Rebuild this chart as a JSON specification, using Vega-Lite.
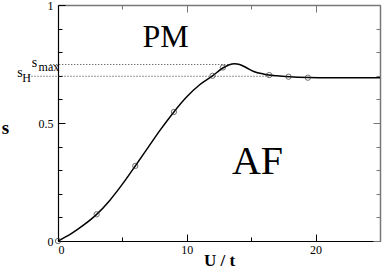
{
  "$schema": "https://vega.github.io/schema/vega-lite/v6.json",
  "width": 322,
  "height": 236,
  "autosize": "none",
  "padding": {"left": 58, "top": 5, "right": 2, "bottom": 28},
  "background": "white",
  "config": {"view": {"stroke": null}, "font": "Liberation Serif"},
  "datasets": {
    "curve": [
      {"u": 0, "s": 0}, {"u": 1, "s": 0.03}, {"u": 2, "s": 0.068}, {"u": 3, "s": 0.113},
      {"u": 4, "s": 0.171}, {"u": 5, "s": 0.241}, {"u": 6, "s": 0.318}, {"u": 7, "s": 0.397},
      {"u": 8, "s": 0.475}, {"u": 9, "s": 0.547}, {"u": 10, "s": 0.611}, {"u": 11, "s": 0.662},
      {"u": 12, "s": 0.7}, {"u": 12.8, "s": 0.733}, {"u": 13.3, "s": 0.747}, {"u": 13.7, "s": 0.751},
      {"u": 14.1, "s": 0.748}, {"u": 14.6, "s": 0.735}, {"u": 15.2, "s": 0.718}, {"u": 16, "s": 0.707},
      {"u": 17, "s": 0.7}, {"u": 18, "s": 0.696}, {"u": 19.5, "s": 0.693}, {"u": 21, "s": 0.692},
      {"u": 25, "s": 0.692}
    ],
    "pts": [
      {"u": 0, "s": 0}, {"u": 3, "s": 0.113}, {"u": 6, "s": 0.318}, {"u": 9, "s": 0.547},
      {"u": 12, "s": 0.7}, {"u": 12.8, "s": 0.735}, {"u": 16.4, "s": 0.703}, {"u": 17.9, "s": 0.696},
      {"u": 19.4, "s": 0.692}
    ],
    "refs": [
      {"u1": -0.6, "u2": 13.4, "s": 0.748},
      {"u1": -2.29, "u2": 16.4, "s": 0.698}
    ],
    "mainText": [
      {"u": -1.82, "s": 0.737, "t": "s"},
      {"u": -2.95, "s": 0.695, "t": "s"}
    ],
    "subText": [
      {"u": -1.51, "s": 0.72, "t": "max"},
      {"u": -2.78, "s": 0.674, "t": "H"}
    ],
    "regions": [
      {"u": 8.35, "s": 0.864, "t": "PM", "fs": 18},
      {"u": 15.49, "s": 0.335, "t": "AF", "fs": 24}
    ]
  },
  "resolve": {"axis": {"x": "independent", "y": "independent"}},
  "layer": [
    {
      "data": {"name": "refs"},
      "mark": {"type": "rule", "strokeDash": [1, 2], "color": "#333", "strokeWidth": 1},
      "encoding": {
        "x": {"field": "u1", "type": "quantitative", "scale": {"domain": [0, 25], "nice": false, "zero": false},
          "axis": {"orient": "bottom", "values": [0, 5, 10, 15, 20, 25], "title": "U / t",
            "titleFont": "Liberation Serif", "titleFontSize": 17, "titleFontWeight": "bold", "titleColor": "black",
            "titleY": 24, "titleBaseline": "alphabetic",
            "domainColor": "black", "domainWidth": 1.2, "tickColor": "black",
            "tickSize": {"condition": {"test": "datum.value % 10 === 0", "value": -7}, "value": -4},
            "labelExpr": "datum.value % 10 === 0 ? datum.label : ''",
            "labelFont": "Liberation Serif", "labelFontSize": 12, "labelColor": "black", "labelPadding": 10,
            "grid": false}},
        "x2": {"field": "u2"},
        "y": {"field": "s", "type": "quantitative", "scale": {"domain": [0, 1], "nice": false},
          "axis": {"orient": "left", "values": [0, 0.1, 0.2, 0.3, 0.4, 0.5, 0.6, 0.7, 0.8, 0.9, 1], "format": "~g",
            "title": "s", "titleAngle": 0, "titleFont": "Liberation Serif", "titleFontSize": 19, "titleFontWeight": "bold",
            "titleColor": "black", "titleX": -53, "titleY": 122, "titleAlign": "center", "titleBaseline": "middle",
            "domainColor": "black", "domainWidth": 1.2, "tickColor": "black",
            "tickSize": {"condition": {"test": "datum.value === 0 || datum.value === 0.5 || datum.value === 1", "value": -7}, "value": -4},
            "labelExpr": "(datum.value === 0 || datum.value === 0.5 || datum.value === 1) ? datum.label : ''",
            "labelFont": "Liberation Serif", "labelFontSize": 12, "labelColor": "black", "labelPadding": 12,
            "grid": false}}
      }
    },
    {
      "data": {"name": "curve"},
      "mark": {"type": "line", "interpolate": "monotone", "color": "black", "strokeWidth": 1.5},
      "encoding": {
        "x": {"field": "u", "type": "quantitative",
          "axis": {"orient": "top", "values": [0, 5, 10, 15, 20, 25], "labels": false, "title": null,
            "domainColor": "#777", "domainWidth": 1.5, "tickColor": "#777",
            "tickSize": {"condition": {"test": "datum.value % 10 === 0", "value": -7}, "value": -4}, "grid": false}},
        "y": {"field": "s", "type": "quantitative",
          "axis": {"orient": "right", "values": [0, 0.1, 0.2, 0.3, 0.4, 0.5, 0.6, 0.7, 0.8, 0.9, 1], "labels": false, "title": null,
            "domainColor": "#777", "domainWidth": 1.5, "tickColor": "#777",
            "tickSize": {"condition": {"test": "datum.value === 0 || datum.value === 0.5 || datum.value === 1", "value": -7}, "value": -4}, "grid": false}}
      }
    },
    {
      "data": {"name": "pts"},
      "mark": {"type": "point", "filled": false, "color": "#333", "size": 28, "strokeWidth": 1},
      "encoding": {
        "x": {"field": "u", "type": "quantitative", "axis": null},
        "y": {"field": "s", "type": "quantitative", "axis": null}
      }
    },
    {
      "data": {"name": "mainText"},
      "mark": {"type": "text", "font": "Liberation Serif", "fontSize": 14, "align": "center", "baseline": "alphabetic", "color": "black"},
      "encoding": {
        "x": {"field": "u", "type": "quantitative", "axis": null},
        "y": {"field": "s", "type": "quantitative", "axis": null},
        "text": {"field": "t"}
      }
    },
    {
      "data": {"name": "subText"},
      "mark": {"type": "text", "font": "Liberation Serif", "fontSize": 12, "align": "left", "baseline": "alphabetic", "color": "black"},
      "encoding": {
        "x": {"field": "u", "type": "quantitative", "axis": null},
        "y": {"field": "s", "type": "quantitative", "axis": null},
        "text": {"field": "t"}
      }
    },
    {
      "data": {"name": "regions"},
      "mark": {"type": "text", "font": "Liberation Serif", "align": "center", "baseline": "middle", "color": "black"},
      "encoding": {
        "x": {"field": "u", "type": "quantitative", "axis": null},
        "y": {"field": "s", "type": "quantitative", "axis": null},
        "text": {"field": "t"},
        "size": {"field": "fs", "type": "quantitative", "scale": {"type": "identity"}, "legend": null}
      }
    }
  ]
}
